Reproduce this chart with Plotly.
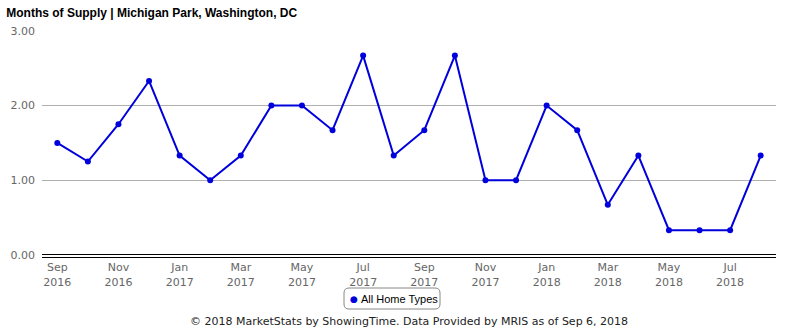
import plotly.graph_objects as go

months = ["Sep 2016", "Oct 2016", "Nov 2016", "Dec 2016", "Jan 2017", "Feb 2017", "Mar 2017", "Apr 2017",
          "May 2017", "Jun 2017", "Jul 2017", "Aug 2017", "Sep 2017", "Oct 2017", "Nov 2017", "Dec 2017",
          "Jan 2018", "Feb 2018", "Mar 2018", "Apr 2018", "May 2018", "Jun 2018", "Jul 2018", "Aug 2018"]
supply = [1.5, 1.25, 1.75, 2.33, 1.33, 1.0, 1.33, 2.0, 2.0, 1.67, 2.67, 1.33, 1.67, 2.67, 1.0, 1.0,
          2.0, 1.67, 0.67, 1.33, 0.33, 0.33, 0.33, 1.33]
series_name = "All Home Types"
tick_months = months[::2]
tick_labels = [m.replace(" ", "<br>") for m in tick_months]
y_ticks = [0, 1, 2, 3]
y_labels = ["0.00", "1.00", "2.00", "3.00"]

W, H = 785, 330
ML, MR, MT, MB = 42, 9, 31, 73
PW, PH = W - ML - MR, H - MT - MB

def px_x(p):
    return (p - ML) / PW

def px_y(p):
    return (H - MB - p) / PH

fig = go.Figure()
fig.add_trace(go.Scatter(
    x=months, y=supply, mode="lines+markers", name=series_name, showlegend=False,
    line=dict(color="#0000dd", width=2), marker=dict(color="#0000dd", size=6),
))

# rounded legend box
x0, x1, y0, y1 = px_x(344), px_x(440), px_y(309), px_y(288)
rx, ry = 5 / PW, 5 / PH
path = (f"M {x0+rx},{y1} L {x1-rx},{y1} Q {x1},{y1} {x1},{y1-ry} L {x1},{y0+ry} "
        f"Q {x1},{y0} {x1-rx},{y0} L {x0+rx},{y0} Q {x0},{y0} {x0},{y0+ry} "
        f"L {x0},{y1-ry} Q {x0},{y1} {x0+rx},{y1} Z")
fig.add_shape(type="path", path=path, xref="paper", yref="paper",
              line=dict(color="#888", width=1), fillcolor="white")
fig.add_annotation(text="●", xref="paper", yref="paper", x=px_x(353.5), y=px_y(298.5),
                   xanchor="center", yanchor="middle", showarrow=False,
                   font=dict(family="DejaVu Sans", size=9, color="#0000dd"))
fig.add_annotation(text=series_name,
                   xref="paper", yref="paper", x=px_x(359), y=px_y(298.5),
                   xanchor="left", yanchor="middle", showarrow=False,
                   font=dict(family="Liberation Sans, Arial", size=11, color="#000"))

fig.update_layout(
    width=W, height=H,
    margin=dict(l=ML, r=MR, t=MT, b=MB, autoexpand=False),
    paper_bgcolor="white", plot_bgcolor="white",
    title=dict(text="<b>Months of Supply | Michigan Park, Washington, DC</b>",
               x=0.008, xanchor="left", y=0.975, yanchor="top",
               font=dict(family="Liberation Sans, Arial", size=12, color="#000")),
    showlegend=False,
    xaxis=dict(type="category", range=[-0.5, 23.5], tickmode="array", automargin=False,
               tickvals=tick_months, ticktext=tick_labels, showgrid=False,
               showline=True, linecolor="#000", linewidth=1.2, ticks="",
               tickfont=dict(family="DejaVu Sans", size=11, color="#666")),
    yaxis=dict(range=[-0.03, 3], tickmode="array", tickvals=y_ticks, ticktext=y_labels,
               showgrid=True, gridcolor="#b0b0b0", gridwidth=1, automargin=False,
               zeroline=True, zerolinecolor="#000", zerolinewidth=1.2,
               tickfont=dict(family="DejaVu Sans", size=11, color="#666"), ticks="",
               ticklabelstandoff=6),
)
fig.add_annotation(text="© 2018 MarketStats by ShowingTime. Data Provided by MRIS as of Sep 6, 2018",
                   xref="paper", yref="paper", x=0.5, y=px_y(321), xanchor="center", yanchor="middle",
                   showarrow=False, font=dict(family="DejaVu Sans", size=11, color="#222"))
fig.write_html("out.html")
